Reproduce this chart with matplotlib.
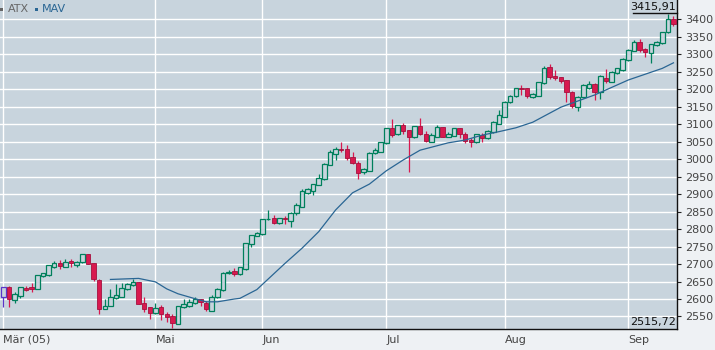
import matplotlib
matplotlib.use('Agg')
import matplotlib.pyplot as plt
from matplotlib.lines import Line2D
from matplotlib.patches import Rectangle

# ATX daily candles, Mar 22 - Sep 13 2005 (trading-day index)
opens = [2605, 2634, 2597, 2610, 2631, 2635, 2630, 2665, 2670, 2692,
         2702, 2692, 2708, 2698, 2705, 2728, 2703, 2654, 2572, 2581,
         2602, 2607, 2628, 2639, 2649, 2590, 2576, 2559, 2576, 2557,
         2550, 2529, 2576, 2579, 2589, 2600, 2590, 2567, 2606, 2625,
         2675, 2681, 2671, 2685, 2757, 2780, 2785, 2828, 2833, 2817,
         2833, 2824, 2845, 2864, 2903, 2910, 2926, 2943, 2984, 3015,
         3029, 3029, 3006, 2990, 2963, 2967, 3018, 3022, 3046, 3089,
         3071, 3098, 3084, 3063, 3095, 3072, 3050, 3065, 3092, 3065,
         3067, 3089, 3072, 3055, 3048, 3069, 3060, 3077, 3101, 3122,
         3163, 3181, 3203, 3203, 3179, 3182, 3217, 3263, 3238, 3235,
         3227, 3192, 3150, 3177, 3203, 3215, 3192, 3233, 3222, 3246,
         3256, 3284, 3311, 3335, 3316, 3303, 3327, 3332, 3363, 3401]
highs = [2634, 2636, 2621, 2634, 2636, 2647, 2670, 2674, 2697, 2708,
         2712, 2714, 2715, 2708, 2728, 2729, 2704, 2656, 2599, 2628,
         2643, 2647, 2647, 2658, 2650, 2607, 2577, 2590, 2583, 2564,
         2557, 2580, 2599, 2601, 2607, 2601, 2594, 2612, 2632, 2676,
         2683, 2690, 2691, 2760, 2784, 2791, 2830, 2855, 2841, 2832,
         2839, 2850, 2874, 2914, 2918, 2930, 2958, 2990, 3026, 3035,
         3050, 3041, 3022, 2995, 2975, 3020, 3031, 3050, 3090, 3114,
         3098, 3105, 3084, 3096, 3117, 3081, 3074, 3098, 3093, 3079,
         3089, 3090, 3077, 3062, 3073, 3074, 3084, 3110, 3141, 3166,
         3184, 3205, 3212, 3205, 3190, 3222, 3267, 3273, 3256, 3236,
         3228, 3196, 3181, 3214, 3224, 3217, 3240, 3258, 3253, 3262,
         3289, 3316, 3340, 3343, 3317, 3331, 3338, 3365, 3415.91, 3411]
lows = [2578, 2578, 2589, 2602, 2623, 2620, 2629, 2663, 2666, 2690,
        2687, 2691, 2691, 2691, 2703, 2700, 2652, 2558, 2571, 2580,
        2601, 2605, 2627, 2638, 2585, 2564, 2543, 2558, 2540, 2534,
        2515.72, 2528, 2575, 2578, 2587, 2581, 2567, 2565, 2604, 2624,
        2671, 2666, 2670, 2684, 2750, 2779, 2784, 2827, 2814, 2815,
        2814, 2807, 2840, 2863, 2900, 2898, 2925, 2941, 2983, 2998,
        3022, 2998, 2986, 2944, 2957, 2966, 3016, 3021, 3044, 3065,
        3070, 3071, 2964, 3062, 3069, 3048, 3049, 3063, 3064, 3063,
        3066, 3060, 3046, 3036, 3046, 3049, 3058, 3076, 3100, 3120,
        3160, 3178, 3184, 3175, 3176, 3180, 3216, 3230, 3227, 3218,
        3165, 3146, 3139, 3176, 3202, 3170, 3173, 3219, 3220, 3244,
        3254, 3282, 3309, 3306, 3294, 3275, 3325, 3330, 3362, 3382]
closes = [2634, 2600, 2613, 2633, 2627, 2629, 2669, 2674, 2696, 2702,
          2694, 2707, 2704, 2707, 2728, 2701, 2656, 2572, 2581, 2607,
          2611, 2631, 2642, 2649, 2587, 2572, 2561, 2574, 2556, 2548,
          2532, 2580, 2585, 2592, 2599, 2591, 2571, 2605, 2628, 2675,
          2676, 2672, 2691, 2760, 2783, 2790, 2829, 2830, 2818, 2831,
          2828, 2845, 2869, 2909, 2915, 2929, 2946, 2986, 3020, 3029,
          3027, 3004, 2990, 2962, 2972, 3019, 3027, 3049, 3089, 3069,
          3097, 3082, 3063, 3095, 3071, 3053, 3069, 3092, 3065, 3072,
          3089, 3071, 3053, 3048, 3071, 3062, 3081, 3106, 3127, 3165,
          3182, 3203, 3200, 3182, 3187, 3220, 3260, 3236, 3232, 3225,
          3192, 3153, 3179, 3213, 3215, 3193, 3238, 3224, 3251, 3260,
          3287, 3313, 3337, 3313, 3306, 3329, 3337, 3363, 3401, 3387]

# moving average
mav_idx = [19, 24, 27, 29, 31, 34, 36, 38, 41, 42, 45, 47, 50, 53, 56, 59, 62,
           65, 68, 71, 74, 79, 82, 85, 88, 91, 94, 99, 100, 105, 111, 117, 119]
mav_val = [2656, 2659, 2649, 2629, 2615, 2601, 2592, 2592, 2600, 2602, 2627,
           2657, 2702, 2745, 2793, 2855, 2904, 2929, 2967, 2998, 3026, 3047,
           3055, 3069, 3079, 3090, 3106, 3149, 3155, 3184, 3227, 3260, 3276]

month_idx = [0, 27, 46, 68, 89, 111]
month_lbl = ['Mär (05)', 'Mai', 'Jun', 'Jul', 'Aug', 'Sep']
yticks = list(range(2550, 3401, 50))

BG = '#c8d4dd'
GREEN = '#00805c'
RED = '#d8194f'
W, H = 715, 350

fig = plt.figure(figsize=(7.15, 3.5), dpi=100, facecolor='#eef1f4')
ax = fig.add_axes([0, 21 / H, 677 / W, 329 / H])
ax.set_facecolor(BG)

for i in range(len(opens)):
    o, h, l, c = opens[i], highs[i], lows[i], closes[i]
    up = c >= o
    col = GREEN if up else RED
    if i == 0:
        col = '#5b35c9'
    ax.vlines(i, l, h, color=col, lw=0.9, zorder=2)
    hgt = max(abs(c - o), 2.0)
    bot = min(o, c)
    if up:
        ax.bar(i, hgt, bottom=bot, width=0.82, facecolor=BG, edgecolor=col,
               lw=0.9, zorder=3)
    else:
        ax.bar(i, hgt, bottom=bot, width=0.78, facecolor=RED, edgecolor='#a5103e',
               lw=0.6, zorder=3)

ax.plot(mav_idx, mav_val, color='#2a6694', lw=0.9, zorder=4)

ax.set_xlim(-0.62, 119.63)
ax.set_ylim(2514.2, 3455.8)
ax.set_yticks(yticks)
ax.yaxis.tick_right()
ax.tick_params(axis='y', length=3, width=0.8, color='#222', labelsize=8,
               labelcolor='#444', pad=3)
ax.set_xticks(month_idx)
ax.set_xticklabels(month_lbl, ha='left')
ax.tick_params(axis='x', length=0, labelsize=8, labelcolor='#444', pad=4)
ax.grid(True, color='white', lw=1.0, zorder=0)
ax.set_axisbelow(True)
for s in ['left', 'top']:
    ax.spines[s].set_visible(False)
for s in ['right', 'bottom']:
    ax.spines[s].set_color('#111')
    ax.spines[s].set_linewidth(1.0)

# legend: small squares as patches, names as text
fig.add_artist(Rectangle((0, 1 - 10.5 / H), 2.5 / W, 3 / H, transform=fig.transFigure,
                         color='#666', lw=0))
fig.text(8 / W, 1 - 9 / H, 'ATX', fontsize=8, color='#666', va='center')
fig.add_artist(Rectangle((34.5 / W, 1 - 10.5 / H), 3 / W, 3 / H, transform=fig.transFigure,
                         color='#2a6694', lw=0))
fig.text(42 / W, 1 - 9 / H, 'MAV', fontsize=8, color='#2a6694', va='center')

# max / min labels
fig.text(676 / W, 1 - 7 / H, '3415,91', fontsize=8, color='#111', ha='right', va='center')
fig.add_artist(Line2D([633 / W, 677 / W], [1 - 13 / H, 1 - 13 / H], color='#111', lw=1.0))
fig.text(676 / W, 1 - 322 / H, '2515,72', fontsize=8, color='#111', ha='right', va='center')

fig.savefig('out.png', dpi=100, facecolor=fig.get_facecolor())
